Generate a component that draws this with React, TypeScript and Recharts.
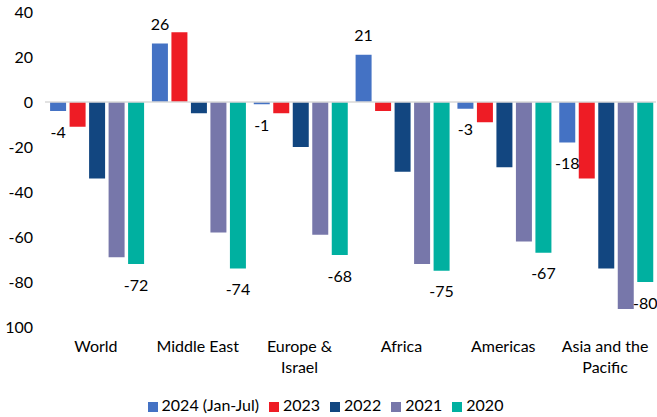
import { BarChart, Bar, XAxis, YAxis, Legend, ReferenceLine, LabelList } from "recharts";

const categories = ["World", "Middle East", "Europe & Israel", "Africa", "Americas", "Asia and the Pacific"];
const s2024 = [-4, 26, -1, 21, -3, -18];
const s2023 = [-11, 31, -5, -4, -9, -34];
const s2022 = [-34, -5, -20, -31, -29, -74];
const s2021 = [-69, -58, -59, -72, -62, -92];
const s2020 = [-72, -74, -68, -75, -67, -80];
const yTicks = [40, 20, 0, -20, -40, -60, -80, -100];

const series = [
  { key: "y2024", name: "2024 (Jan-Jul)", color: "#4472C4", values: s2024, labels: true },
  { key: "y2023", name: "2023", color: "#EE1C25", values: s2023, labels: false },
  { key: "y2022", name: "2022", color: "#124680", values: s2022, labels: false },
  { key: "y2021", name: "2021", color: "#7777AA", values: s2021, labels: false },
  { key: "y2020", name: "2020", color: "#00B0A0", values: s2020, labels: true },
];

const data = categories.map((c, i) => {
  const row: Record<string, string | number> = { name: c };
  series.forEach((s) => (row[s.key] = s.values[i]));
  return row;
});

const font = "Lato, sans-serif";

function wrap(text: string, max = 12) {
  const lines: string[] = [];
  let cur = "";
  text.split(" ").forEach((w) => {
    const next = cur ? cur + " " + w : w;
    if (next.length > max && cur) {
      lines.push(cur);
      cur = w;
    } else cur = next;
  });
  if (cur) lines.push(cur);
  return lines;
}

function CategoryTick(props: any) {
  const { x, y, payload } = props;
  const lines = wrap(String(payload.value));
  return (
    <text x={x} y={y} textAnchor="middle" fontFamily={font} fontSize={16} fill="#000">
      {lines.map((l, i) => (
        <tspan key={i} x={x} dy={i === 0 ? 25 : 21}>
          {l}
        </tspan>
      ))}
    </text>
  );
}

function EndLabel(props: any) {
  const { x, y, width, height, value } = props;
  const v = Number(value);
  const y1 = Number(y);
  const y2 = Number(y) + Number(height);
  const end = v < 0 ? Math.max(y1, y2) : Math.min(y1, y2);
  return (
    <text
      x={Number(x) + Number(width) / 2}
      y={v < 0 ? end + 20 : end - 20}
      textAnchor="middle"
      dominantBaseline="central"
      fontFamily={font}
      fontSize={16}
      fill="#000"
    >
      {v}
    </text>
  );
}

const order = series.map((s) => s.name);

export default function App() {
  return (
    <div style={{ width: 657, height: 417, background: "#fff" }}>
      <style>{`body{margin:0}`}</style>
      <BarChart
        width={657}
        height={417}
        data={data}
        margin={{ top: 12, right: 1, left: 5, bottom: 0 }}
        barCategoryGap="5%"
        barGap={3.5}
      >
        <XAxis
          dataKey="name"
          axisLine={false}
          tickLine={false}
          tickSize={0}
          tickMargin={0}
          interval={0}
          height={62}
          tick={<CategoryTick />}
        />
        <YAxis
          domain={[-100, 40]}
          ticks={yTicks}
          axisLine={false}
          tickLine={false}
          tickSize={0}
          tickMargin={12}
          width={40}
          interval={0}
          tick={{ fontFamily: font, fontSize: 16, fill: "#000" }}
          tickFormatter={(v: number) => (v === -100 ? "100" : String(v))}
        />
        <ReferenceLine y={0} stroke="#D9D9D9" strokeWidth={1.5} />
        {series.map((s) => (
          <Bar key={s.key} dataKey={s.key} name={s.name} fill={s.color} isAnimationActive={false}>
            {s.labels && <LabelList dataKey={s.key} content={<EndLabel />} />}
          </Bar>
        ))}
        <Legend
          verticalAlign="bottom"
          height={28}
          iconType="square"
          iconSize={10}
          wrapperStyle={{ bottom: -6 }}
          itemSorter={(item: any) => order.indexOf(String(item.value))}
          formatter={(value: string) => (
            <span style={{ color: "#000", fontFamily: font, fontSize: 16 }}>{value}</span>
          )}
        />
      </BarChart>
    </div>
  );
}
